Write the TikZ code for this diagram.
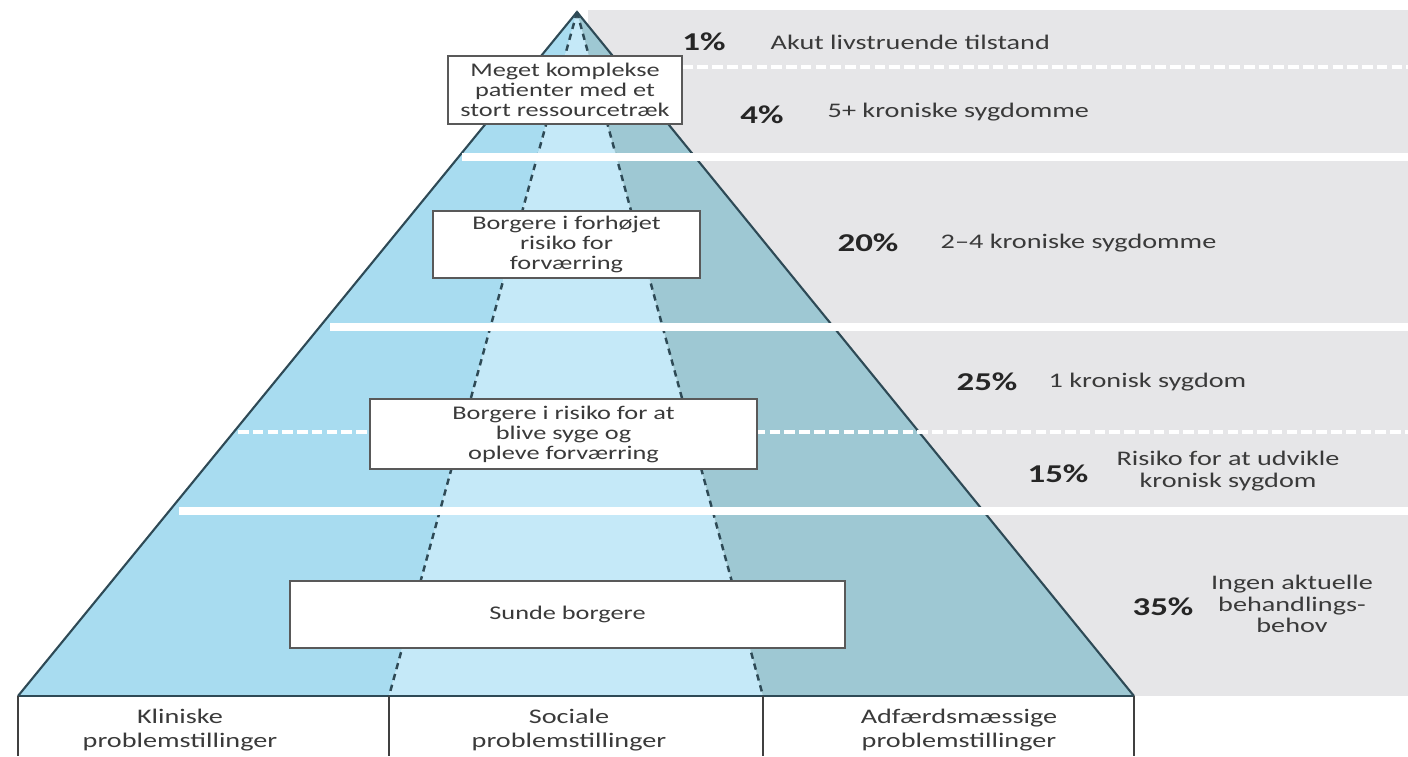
\documentclass[tikz,border=0pt]{standalone}
\usepackage{fontspec}
\setmainfont{Carlito}[FakeStretch=1.36]
\definecolor{pyrleft}{HTML}{A8DCF0}
\definecolor{pyrmid}{HTML}{C5E9F8}
\definecolor{pyrright}{HTML}{9EC8D3}
\definecolor{bandgray}{HTML}{E6E6E8}
\definecolor{pyredge}{HTML}{2E4A56}
\definecolor{txtgray}{HTML}{3A3A3A}
\newcommand{\boxtxt}{\fontsize{5.5}{5.7}\selectfont}
\newcommand{\sidetxt}{\fontsize{5.9}{6.1}\selectfont}
\newcommand{\basetxt}{\fontsize{5.9}{6.8}\selectfont}
\newcommand{\pcttxt}{\fontsize{7.3}{8}\selectfont\bfseries}

\begin{document}
\begin{tikzpicture}[x=0.01cm, y=-0.01cm,
            group/.style={draw=black!65, fill=white, line width=0.4pt, align=center, inner sep=0pt, font=\boxtxt, text=txtgray},
            pct/.style={font=\pcttxt, text=black!85},
            desc/.style={anchor=west, inner sep=0pt, font=\sidetxt, text=txtgray},
            band/.style={white, line width=2.1pt},
            subband/.style={white, line width=1.1pt, dash pattern=on 3pt off 1.2pt},
            split/.style={pyredge, line width=0.7pt, dash pattern=on 1.8pt off 1.4pt},
            edge/.style={pyredge, line width=0.6pt},
            cell/.style={black!75, line width=0.5pt},
            area/.style={font=\basetxt, align=center, text=txtgray}
        ]
            \useasboundingbox (0,0) rectangle (1408,756);

            % Corners of the pyramid
            \coordinate (apex) at (577,12);
            \coordinate (bl) at (18,696);
            \coordinate (br) at (1134,696);
            \coordinate (dl) at (389,696);
            \coordinate (dr) at (763,696);

            % Grey band behind the levels
            \fill[bandgray] (588,10) rectangle (1408,696);

            % Three columns
            \fill[pyrleft] (apex) -- (bl) -- (dl) -- cycle;
            \fill[pyrmid] (apex) -- (dl) -- (dr) -- cycle;
            \fill[pyrright] (apex) -- (dr) -- (br) -- cycle;

            % Outline and column splits
            \draw[edge] (bl) -- (apex) -- (br);
            \draw[split] (apex) -- (dl);
            \draw[split] (apex) -- (dr);

            % Level lines
            \draw[subband] (535,67) -- (1408,67);
            \draw[band] (462,157) -- (1408,157);
            \draw[band] (330,327) -- (1408,327);
            \draw[subband] (238,432) -- (1408,432);
            \draw[band] (179,511) -- (1408,511);

            % Groups
            \node[group, minimum width=2.34cm, minimum height=0.68cm] (complex) at (565,90) {Meget komplekse\\patienter med et\\stort ressourcetræk};
            \node[group, minimum width=2.67cm, minimum height=0.67cm] (elevated) at (566.5,244.5) {Borgere i forhøjet\\risiko for\\forværring};
            \node[group, minimum width=3.87cm, minimum height=0.70cm] (atrisk) at (563.5,434) {Borgere i risiko for at\\blive syge og\\opleve forværring};
            \node[group, minimum width=5.55cm, minimum height=0.67cm] (healthy) at (567.5,614.5) {Sunde borgere};

            % Base cells
            \draw[edge] (bl) -- (br);
            \draw[cell] (bl) -- ++(0,60);
            \draw[cell] (dl) -- ++(0,60);
            \draw[cell] (dr) -- ++(0,60);
            \draw[cell] (br) -- ++(0,60);
            \node[area] (clinical) at (180,730) {Kliniske\\problemstillinger};
            \node[area] (social) at (569,730) {Sociale\\problemstillinger};
            \node[area] (behaviour) at (959,730) {Adfærdsmæssige\\problemstillinger};

            % Shares per level
            \node[pct] (p1) at (704,42) {1\%};
            \node[desc] (d1) at (770,42) {Akut livstruende tilstand};
            \node[pct] (p4) at (762,115) {4\%};
            \node[desc] (d4) at (827,112) {5+ kroniske sygdomme};
            \node[pct] (p20) at (868,243) {20\%};
            \node[desc] (d20) at (940,243) {2--4 kroniske sygdomme};
            \node[pct] (p25) at (987,382) {25\%};
            \node[desc] (d25) at (1048,382) {1 kronisk sygdom};
            \node[pct] (p15) at (1058,474) {15\%};
            \node[desc, anchor=center, align=center] (d15) at (1228,471) {Risiko for at udvikle\\kronisk sygdom};
            \node[pct] (p35) at (1163,607) {35\%};
            \node[desc, anchor=center, align=center] (d35) at (1292,604) {Ingen aktuelle\\behandlings-\\behov};
        \end{tikzpicture}
\end{document}
